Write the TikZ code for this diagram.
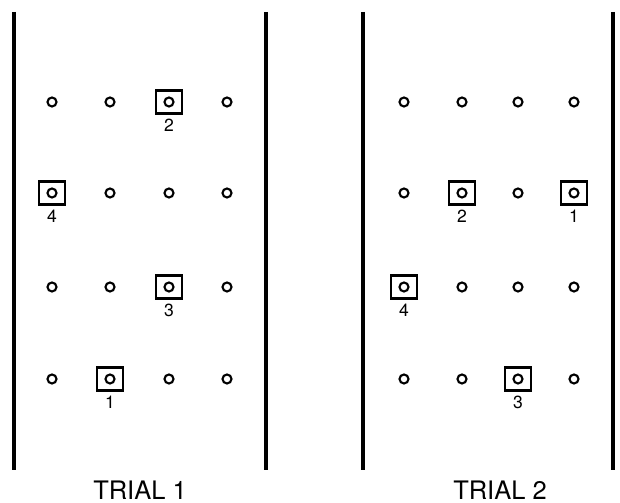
\documentclass[tikz,border=0pt]{standalone}
\usepackage{fontspec}
\setmainfont{TeX Gyre Heros}
\usetikzlibrary{positioning}

\tikzset{
  peg/.style={circle, draw, line width=1.2pt, minimum size=0.18cm, inner sep=0pt},
  target/.style={draw, line width=1.4pt, minimum width=0.53cm, minimum height=0.46cm, inner sep=0pt},
  wall/.style={line width=2pt},
  order/.style={font=\fontsize{10}{11}\selectfont, inner sep=0pt},
  caption/.style={font=\fontsize{14.5}{16}\selectfont, inner sep=0pt}
}

\begin{document}
\begin{tikzpicture}[x=0.02cm, y=-0.02cm]
        \useasboundingbox (0,0) rectangle (620,503);

        % Walls
        \coordinate (w1t) at (14,12);  \coordinate (w1b) at (14,470);
        \coordinate (w2t) at (266,12); \coordinate (w2b) at (266,470);
        \coordinate (w3t) at (363,12); \coordinate (w3b) at (363,470);
        \coordinate (w4t) at (613,12); \coordinate (w4b) at (613,470);
        \draw[wall] (w1t) -- (w1b);
        \draw[wall] (w2t) -- (w2b);
        \draw[wall] (w3t) -- (w3b);
        \draw[wall] (w4t) -- (w4b);

        % Pegs, trial 1
        \foreach \c/\x in {1/52,2/110,3/169,4/227}
          \foreach \r/\y in {1/102,2/193,3/287,4/379}
            \node[peg] (a\r\c) at (\x,\y) {};

        % Pegs, trial 2
        \foreach \c/\x in {1/404,2/462,3/518,4/574}
          \foreach \r/\y in {1/102,2/193,3/287,4/379}
            \node[peg] (b\r\c) at (\x,\y) {};

        % Targets, trial 1
        \node[target] (ta1) at (a42) {};
        \node[target] (ta2) at (a13) {};
        \node[target] (ta3) at (a33) {};
        \node[target] (ta4) at (a21) {};
        \node[order, below=2pt of ta1] (na1) {1};
        \node[order, below=2pt of ta2] (na2) {2};
        \node[order, below=2pt of ta3] (na3) {3};
        \node[order, below=2pt of ta4] (na4) {4};

        % Targets, trial 2
        \node[target] (tb1) at (b24) {};
        \node[target] (tb2) at (b22) {};
        \node[target] (tb3) at (b43) {};
        \node[target] (tb4) at (b31) {};
        \node[order, below=2pt of tb1] (nb1) {1};
        \node[order, below=2pt of tb2] (nb2) {2};
        \node[order, below=2pt of tb3] (nb3) {3};
        \node[order, below=2pt of tb4] (nb4) {4};

        % Labels
        \node[caption] (trial1) at (140,490) {TRIAL 1};
        \node[caption] (trial2) at (500,490) {TRIAL 2};
    \end{tikzpicture}
\end{document}
